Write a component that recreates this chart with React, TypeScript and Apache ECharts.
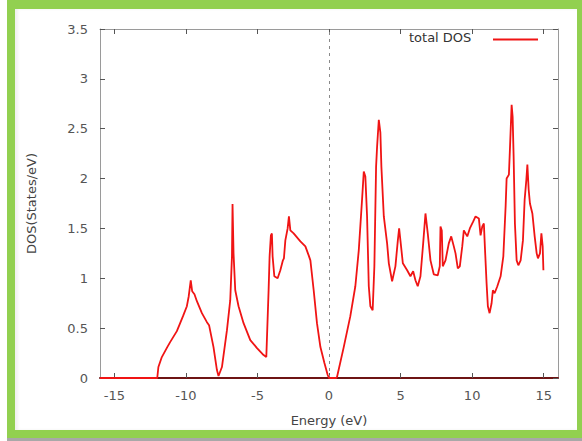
import React, { useEffect, useRef } from "react";
import * as echarts from "echarts";

// Total density of states vs. energy (Fermi level at 0 eV)
const energy: number[] = [
  -16, -12.0, -11.92, -11.68, -11.3, -11.1, -10.63, -10.4, -10.2, -9.93, -9.8, -9.66, -9.56,
  -9.4, -9.23, -8.88, -8.53, -8.38, -8.07, -7.83, -7.72, -7.48, -7.13, -6.9, -6.78, -6.74,
  -6.67, -6.55, -6.32, -5.97, -5.5, -5.03, -4.57, -4.38, -4.22, -4.15, -4.06, -3.99, -3.94,
  -3.82, -3.59, -3.4, -3.22, -3.15, -3.05, -2.89, -2.8, -2.7, -2.47, -2.0, -1.65, -1.42,
  -1.3, -1.07, -0.84, -0.6, -0.32, -0.09, 0, 0.5, 0.56, 1.03, 1.49, 1.84, 2.08, 2.31, 2.43,
  2.54, 2.66, 2.78, 2.89, 3.05, 3.17, 3.29, 3.36, 3.48, 3.59, 3.66, 3.83, 4.06, 4.18, 4.41,
  4.64, 4.81, 4.9, 4.99, 5.16, 5.46, 5.69, 5.88, 6.04, 6.2, 6.39, 6.58, 6.74, 6.9, 7.09,
  7.32, 7.6, 7.74, 7.79, 7.88, 7.95, 8.14, 8.37, 8.54, 8.72, 8.84, 9.0, 9.14, 9.31, 9.42,
  9.54, 9.66, 9.84, 10.08, 10.24, 10.47, 10.59, 10.71, 10.82, 10.89, 11.01, 11.1, 11.22,
  11.36, 11.45, 11.57, 11.76, 11.99, 12.18, 12.34, 12.41, 12.57, 12.64, 12.76, 12.83, 12.9,
  12.99, 13.11, 13.23, 13.39, 13.55, 13.67, 13.79, 13.86, 13.95, 14.04, 14.21, 14.37, 14.51,
  14.6, 14.74, 14.84, 14.93, 14.98,
];

const totalDos: number[] = [
  0, 0, 0.11, 0.21, 0.31, 0.36, 0.47, 0.55, 0.62, 0.72, 0.82, 0.98, 0.87,
  0.84, 0.77, 0.65, 0.56, 0.53, 0.31, 0.08, 0.02, 0.11, 0.48, 0.78, 1.22, 1.745,
  1.25, 0.88, 0.72, 0.55, 0.38, 0.3, 0.23, 0.21, 0.88, 1.22, 1.43, 1.45, 1.22,
  1.02, 1.0, 1.08, 1.18, 1.2, 1.38, 1.5, 1.62, 1.48, 1.45, 1.37, 1.32, 1.23,
  1.18, 0.88, 0.55, 0.31, 0.15, 0.03, 0, 0, 0.01, 0.31, 0.62, 0.92, 1.28, 1.79, 2.07,
  2.02, 1.62, 0.92, 0.72, 0.68, 1.12, 2.12, 2.32, 2.59, 2.46, 2.12, 1.62, 1.35, 1.15, 0.97,
  1.12, 1.38, 1.5, 1.38, 1.15, 1.08, 1.02, 1.07, 0.98, 0.92, 1.02, 1.35, 1.65, 1.45, 1.18,
  1.04, 1.03, 1.12, 1.52, 1.48, 1.12, 1.18, 1.35, 1.42, 1.32, 1.25, 1.1, 1.12, 1.32, 1.48,
  1.45, 1.42, 1.5, 1.57, 1.62, 1.6, 1.43, 1.52, 1.55, 1.32, 0.95, 0.72, 0.65,
  0.75, 0.88, 0.85, 0.92, 1.02, 1.22, 1.72, 2.0, 2.04, 2.29, 2.74, 2.62, 2.22,
  1.55, 1.18, 1.13, 1.18, 1.38, 1.79, 1.99, 2.14, 1.89, 1.75, 1.65, 1.42, 1.25,
  1.2, 1.25, 1.45, 1.32, 1.08,
];

const xTicks: number[] = [-15, -10, -5, 0, 5, 10, 15];
const seriesName = "total DOS";
const xTitle = "Energy (eV)";
const yTitle = "DOS(States/eV)";

const FONT = "DejaVu Sans";
const FRAME = "#9a9a9a";
const RED = "#f01414";

export default function App() {
  const ref = useRef<HTMLDivElement>(null);

  useEffect(() => {
    if (!ref.current) return;
    const chart = echarts.init(ref.current, undefined, { renderer: "svg" });
    const points = energy.map((e, i) => [e, totalDos[i]]);

    const tickStyle = { show: true, inside: true, length: 5, lineStyle: { color: "#555", width: 1 } };

    chart.setOption({
      animation: false,
      grid: { left: 100, right: 24, top: 29, bottom: 63, containLabel: false },
      xAxis: [
        {
          type: "value",
          min: -16,
          max: 16,
          position: "bottom",
          name: xTitle,
          nameLocation: "middle",
          nameGap: 36,
          nameTextStyle: { fontFamily: FONT, fontSize: 13, color: "#444" },
          axisLine: { show: true, onZero: false, lineStyle: { color: "#6e1414", width: 2 } },
          axisTick: { ...tickStyle, customValues: xTicks },
          axisLabel: {
            customValues: xTicks,
            margin: 11,
            fontFamily: FONT,
            fontSize: 13,
            color: "#555",
          },
          splitLine: { show: false },
        },
        {
          type: "value",
          min: -16,
          max: 16,
          position: "top",
          axisLine: { show: true, onZero: false, lineStyle: { color: FRAME, width: 1 } },
          axisTick: { ...tickStyle, customValues: xTicks },
          axisLabel: { show: false },
          splitLine: { show: false },
        },
      ],
      yAxis: [
        {
          type: "value",
          min: 0,
          max: 3.5,
          interval: 0.5,
          position: "left",
          name: yTitle,
          nameLocation: "middle",
          nameGap: 62,
          nameTextStyle: { fontFamily: FONT, fontSize: 13, color: "#444" },
          axisLine: { show: true, onZero: false, lineStyle: { color: FRAME, width: 1 } },
          axisTick: tickStyle,
          axisLabel: { margin: 12, fontFamily: FONT, fontSize: 13, color: "#555" },
          splitLine: { show: false },
        },
        {
          type: "value",
          min: 0,
          max: 3.5,
          interval: 0.5,
          position: "right",
          axisLine: { show: true, onZero: false, lineStyle: { color: FRAME, width: 1 } },
          axisTick: tickStyle,
          axisLabel: { show: false },
          splitLine: { show: false },
        },
      ],
      series: [
        {
          name: seriesName,
          type: "line",
          xAxisIndex: 0,
          yAxisIndex: 0,
          data: points,
          showSymbol: false,
          symbol: "none",
          lineStyle: { color: RED, width: 1.8 },
          z: 3,
          markLine: {
            silent: true,
            symbol: "none",
            label: { show: false },
            lineStyle: { color: "#8a8a8a", type: [3, 4], width: 1 },
            data: [{ xAxis: 0 }],
            z: 2,
          },
        },
      ],
      graphic: [
        {
          type: "text",
          left: 409,
          top: 31,
          style: { text: seriesName, fontFamily: FONT, fontSize: 13, fill: "#333" },
        },
        {
          type: "line",
          shape: { x1: 493, y1: 39.5, x2: 538, y2: 39.5 },
          style: { stroke: RED, lineWidth: 1.8 },
        },
      ],
    });

    return () => chart.dispose();
  }, []);

  return (
    <div style={{ position: "fixed", left: 0, top: 0, width: 582, height: 441, background: "#fff", overflow: "hidden" }}>
      <div
        style={{
          position: "absolute",
          left: 7,
          top: 0,
          width: 578,
          height: 438,
          boxSizing: "border-box",
          borderStyle: "solid",
          borderColor: "#92d050",
          borderWidth: "9px 8px 8px 8px",
          boxShadow: "inset 3px 0 3px rgba(0,0,0,0.06)",
        }}
      />
      <div style={{ position: "absolute", left: 7, top: 438, width: 580, height: 3, background: "#a8a8a8" }} />
      <div ref={ref} style={{ position: "absolute", left: 0, top: 0, width: 582, height: 441 }} />
    </div>
  );
}
